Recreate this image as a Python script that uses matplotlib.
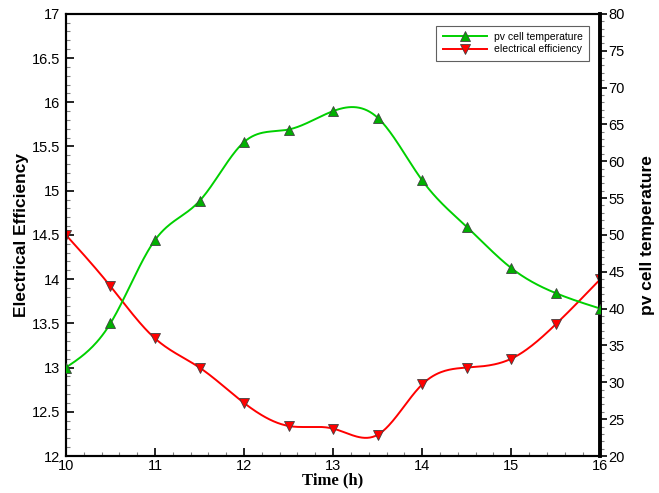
import numpy as np
import matplotlib
matplotlib.use("Agg")
import matplotlib.pyplot as plt
from matplotlib.ticker import MultipleLocator

# values
time_h = [10, 10.5, 11, 11.5, 12, 12.5, 13, 13.5, 14, 14.5, 15, 15.5, 16]
pv_temp = [32.0, 38.0, 49.3, 54.6, 62.6, 64.3, 66.8, 65.9, 57.4, 51.1, 45.5, 42.1, 40.0]
elec_eff = [14.5, 13.92, 13.33, 13.0, 12.6, 12.34, 12.31, 12.24, 12.81, 13.0, 13.1, 13.49, 14.0]


def smooth(x, y, n=400):
    # natural cubic spline, only used to draw the curve between the markers
    x = np.asarray(x, float)
    y = np.asarray(y, float)
    k = len(x)
    h = np.diff(x)
    A = np.zeros((k, k))
    b = np.zeros(k)
    A[0, 0] = A[-1, -1] = 1.0
    for i in range(1, k - 1):
        A[i, i - 1] = h[i - 1]
        A[i, i] = 2 * (h[i - 1] + h[i])
        A[i, i + 1] = h[i]
        b[i] = 6 * ((y[i + 1] - y[i]) / h[i] - (y[i] - y[i - 1]) / h[i - 1])
    m = np.linalg.solve(A, b)
    xs = np.linspace(x[0], x[-1], n)
    idx = np.clip(np.searchsorted(x, xs) - 1, 0, k - 2)
    x0, x1 = x[idx], x[idx + 1]
    hh = x1 - x0
    t0, t1 = x1 - xs, xs - x0
    ys = (m[idx] * t0 ** 3 + m[idx + 1] * t1 ** 3) / (6 * hh) \
        + (y[idx] / hh - m[idx] * hh / 6) * t0 \
        + (y[idx + 1] / hh - m[idx + 1] * hh / 6) * t1
    return xs, ys


plt.rcParams['font.family'] = ['Liberation Sans', 'DejaVu Sans']

fig = plt.figure(figsize=(6.59, 4.93), dpi=100)
ax1 = fig.add_axes([0.1, 0.075, 0.811, 0.897])
ax2 = ax1.twinx()

green_line = '#00d000'
green_fill = '#00b000'
red_line = '#ff0000'

xs, ys = smooth(time_h, elec_eff)
ax1.plot(xs, ys, color=red_line, lw=1.4, zorder=2)
ax1.plot(time_h, elec_eff, ls='none', marker='v', ms=7, mfc=red_line,
         mec='#404040', mew=0.6, zorder=3)

xs, ys = smooth(time_h, pv_temp)
ax2.plot(xs, ys, color=green_line, lw=1.4, zorder=2)
ax2.plot(time_h, pv_temp, ls='none', marker='^', ms=7, mfc=green_fill,
         mec='#404040', mew=0.6, zorder=3)

ax1.set_xlim(10, 16)
ax1.set_ylim(12, 17)
ax2.set_ylim(20, 80)

ax1.xaxis.set_major_locator(MultipleLocator(1))
ax1.xaxis.set_minor_locator(MultipleLocator(0.2))
ax1.yaxis.set_major_locator(MultipleLocator(0.5))
ax1.yaxis.set_minor_locator(MultipleLocator(0.1))
ax2.yaxis.set_major_locator(MultipleLocator(5))
ax2.yaxis.set_minor_locator(MultipleLocator(1))
ax1.yaxis.set_major_formatter(plt.FuncFormatter(lambda v, p: f"{v:g}"))

ax1.tick_params(axis='both', which='major', direction='in', length=6, width=1.2,
                labelsize=10.5, pad=4)
ax1.tick_params(axis='both', which='minor', direction='in', length=3, width=0.8,
                color='#808080')
ax1.tick_params(axis='x', which='major', pad=2)
ax2.tick_params(axis='y', which='major', direction='out', length=5, width=1.2,
                labelsize=10.5, pad=1)
ax2.tick_params(axis='y', which='minor', direction='out', length=3, width=0.8,
                color='#808080')

for sp in ['left', 'bottom', 'top']:
    ax1.spines[sp].set_linewidth(1.5)
    ax2.spines[sp].set_linewidth(1.5)
ax2.spines['right'].set_linewidth(2.8)
ax1.spines['right'].set_visible(False)

ax1.set_xlabel("Time (h)", family=['Liberation Serif', 'DejaVu Serif'],
               fontweight='bold', fontsize=12, labelpad=-0.5)
ax1.set_ylabel("Electrical Efficiency", fontweight='bold', fontsize=12.5,
               labelpad=2)
ax2.set_ylabel("pv cell temperature", fontweight='bold', fontsize=12.5,
               labelpad=11)

h_temp, = ax2.plot([], [], color=green_line, lw=1.4, marker='^', ms=7,
                   mfc=green_fill, mec='#404040', mew=0.6)
h_eff, = ax2.plot([], [], color=red_line, lw=1.4, marker='v', ms=7,
                  mfc=red_line, mec='#404040', mew=0.6)
leg = ax2.legend([h_temp, h_eff], ["pv cell temperature", "electrical efficiency"],
                 loc='upper right', bbox_to_anchor=(0.988, 0.985), fontsize=7.5,
                 numpoints=1, handlelength=4.3, fancybox=False, framealpha=1,
                 edgecolor='#606060', borderpad=0.6, labelspacing=0.25,
                 handletextpad=0.6)
leg.get_frame().set_linewidth(0.8)

fig.savefig("out.png", dpi=100)
plt.close(fig)
